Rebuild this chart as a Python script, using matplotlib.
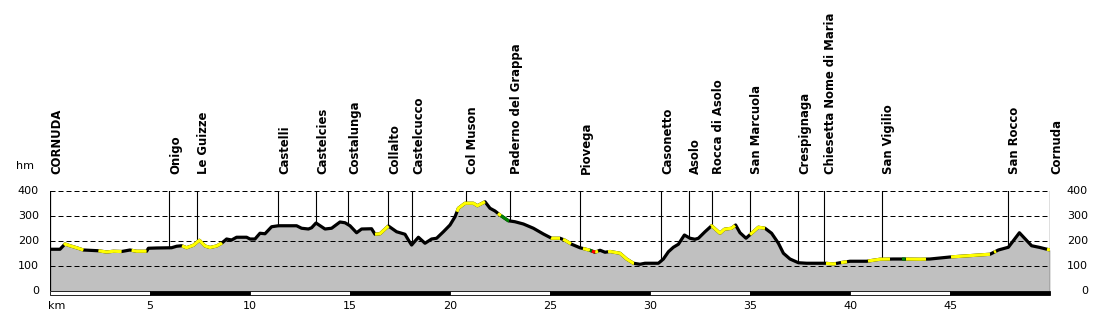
import numpy as np
import matplotlib
matplotlib.use("Agg")
import matplotlib.pyplot as plt
from matplotlib.patches import Rectangle

# elevation profile (km, m)
km = [0, 0.5, 0.75, 1.0, 1.33, 1.67, 2.42, 2.83, 3.17, 3.58, 4.0, 4.33, 4.83, 4.92, 5.33,
      6.08, 6.33, 6.58, 6.83, 7.17, 7.47, 7.75, 8.0, 8.33, 8.58, 8.83, 9.08, 9.33, 9.83,
      10.0, 10.25, 10.5, 10.75, 11.08, 11.42, 12.33, 12.58, 12.92, 13.08, 13.3, 13.75,
      14.08, 14.5, 14.75, 15.0, 15.33, 15.58, 16.08, 16.25, 16.5, 16.92, 17.33, 17.75,
      17.92, 18.08, 18.42, 18.75, 19.08, 19.33, 19.67, 20.0, 20.25, 20.42, 20.75, 21.17,
      21.37, 21.75, 22.0, 22.25, 22.5, 22.92, 23.25, 23.67, 24.17, 24.67, 25.08, 25.5,
      25.75, 26.08, 26.5, 27.0, 27.25, 27.5, 27.75, 28.0, 28.5, 28.83, 29.17, 29.5, 29.75,
      30.42, 30.67, 30.92, 31.17, 31.42, 31.72, 32.0, 32.25, 32.42, 32.75, 33.08, 33.5,
      33.72, 34.08, 34.28, 34.5, 34.8, 35.08, 35.42, 35.75, 36.08, 36.42, 36.67, 37.0,
      37.42, 37.83, 38.75, 39.17, 39.5, 40.0, 40.83, 41.5, 42.17, 42.5, 43.5, 44.0, 45.0,
      47.0, 47.42, 47.92, 48.47, 49.08, 49.5, 50.0]
elev = [167, 167, 188, 181, 173, 164, 161, 156, 159, 158, 164, 159, 159, 171, 172,
        173, 179, 181, 173, 183, 203, 180, 174, 180, 191, 208, 204, 215, 215,
        208, 208, 231, 229, 257, 261, 261, 251, 248, 253, 272, 248,
        251, 276, 273, 261, 233, 248, 249, 227, 229, 260, 237, 227,
        204, 184, 215, 191, 208, 211, 237, 264, 297, 331, 351, 351,
        341, 357, 331, 320, 304, 281, 277, 268, 251, 228, 211, 211,
        203, 187, 173, 163, 155, 163, 155, 158, 151, 128, 111, 107, 111,
        111, 128, 157, 175, 187, 224, 211, 207, 211, 237, 261, 231,
        247, 251, 264, 233, 211, 231, 255, 251, 231, 191, 151, 128,
        113, 111, 111, 108, 113, 119, 119, 127, 128, 128, 127, 128, 136,
        147, 164, 175, 233, 181, 174, 164]

# colored stretches of the line
yellow = [(0.7, 1.67), (2.42, 3.58), (4.08, 4.83), (6.6, 8.6), (16.25, 16.92),
          (20.35, 21.75), (22.4, 22.55), (25.05, 25.5), (25.65, 26.05), (26.65, 27.0),
          (27.25, 27.4), (27.9, 29.2), (33.05, 34.25), (35.0, 35.75), (38.8, 39.3),
          (39.55, 39.85), (40.9, 42.0), (42.8, 43.8), (45.05, 47.0), (47.2, 47.3),
          (49.85, 50.0)]
green = [(22.55, 22.95), (27.0, 27.1), (42.6, 42.78)]
red = [(27.1, 27.25)]

# places
places = ["CORNUDA", "Onigo", "Le Guizze", "Castelli", "Castelcies", "Costalunga",
          "Collalto", "Castelcucco", "Col Muson", "Paderno del Grappa", "Piovega",
          "Casonetto", "Asolo", "Rocca di Asolo", "San Marcuola", "Crespignaga",
          "Chiesetta Nome di Maria", "San Vigilio", "San Rocco", "Cornuda"]
place_km = [0, 5.95, 7.35, 11.4, 13.3, 14.9, 16.9, 18.1, 20.8, 23.0, 26.5,
            30.55, 31.95, 33.1, 35.0, 37.4, 38.7, 41.6, 47.9, 50.0]

y_ticks = [0, 100, 200, 300, 400]
x_ticks = [5, 10, 15, 20, 25, 30, 35, 40, 45]

km = np.array(km)
elev = np.array(elev)

fig = plt.figure(figsize=(11, 3.17), dpi=100)
ax = fig.add_axes([50 / 1100, 26 / 317, 1000 / 1100, 100 / 317])
ax.set_xlim(0, 50)
ax.set_ylim(0, 400)
ax.axis("off")

ax.fill_between(km, 0, elev, color="#c0c0c0", lw=0, zorder=1)

for y in y_ticks[1:]:
    ax.plot([0, 50], [y, y], color="black", lw=0.72, dashes=(5, 3), zorder=2)
ax.plot([0, 0], [0, 400], color="black", lw=0.9, zorder=2)
ax.plot([50, 50], [0, 400], color="black", lw=0.9, zorder=2)

ax.plot(km, elev, color="black", lw=2.3, solid_capstyle="butt", zorder=3)


def stretch(a, b):
    inside = (km > a) & (km < b)
    xs = np.concatenate([[a], km[inside], [b]])
    ys = np.interp(xs, km, elev)
    return xs, ys


for ranges, col in [(yellow, "#ffff00"), (green, "#008000"), (red, "#ff0000")]:
    for a, b in ranges:
        xs, ys = stretch(a, b)
        ax.plot(xs, ys, color=col, lw=2.3, solid_capstyle="butt", zorder=4)

# place markers
for name, k in zip(places, place_km):
    h = np.interp(k, km, elev)
    if 0 < k < 50:
        ax.plot([k, k], [h, 400], color="black", lw=0.8, zorder=2)
    ax.text(k, 468, name, rotation=90, ha="left", va="bottom", fontsize=8.4,
            fontweight="bold", clip_on=False)

# km bar
for i, k in enumerate(range(0, 50, 5)):
    fc = "white" if i % 2 == 0 else "black"
    ax.add_patch(Rectangle((k, -16), 5, 16, facecolor=fc, edgecolor="black",
                           lw=0.6, clip_on=False, zorder=5))

for y in y_ticks:
    ax.text(-0.55, y, str(y), ha="right", va="center", fontsize=8, clip_on=False)
    ax.text(51.9, y, str(y), ha="right", va="center", fontsize=8, clip_on=False)
for k in x_ticks:
    ax.text(k, -60, str(k), ha="center", va="center", fontsize=8, clip_on=False)
ax.text(0.35, -60, "km", ha="center", va="center", fontsize=8, clip_on=False)
ax.text(-1.25, 500, "hm", ha="center", va="center", fontsize=8, clip_on=False)

fig.savefig("out.png", dpi=100)
